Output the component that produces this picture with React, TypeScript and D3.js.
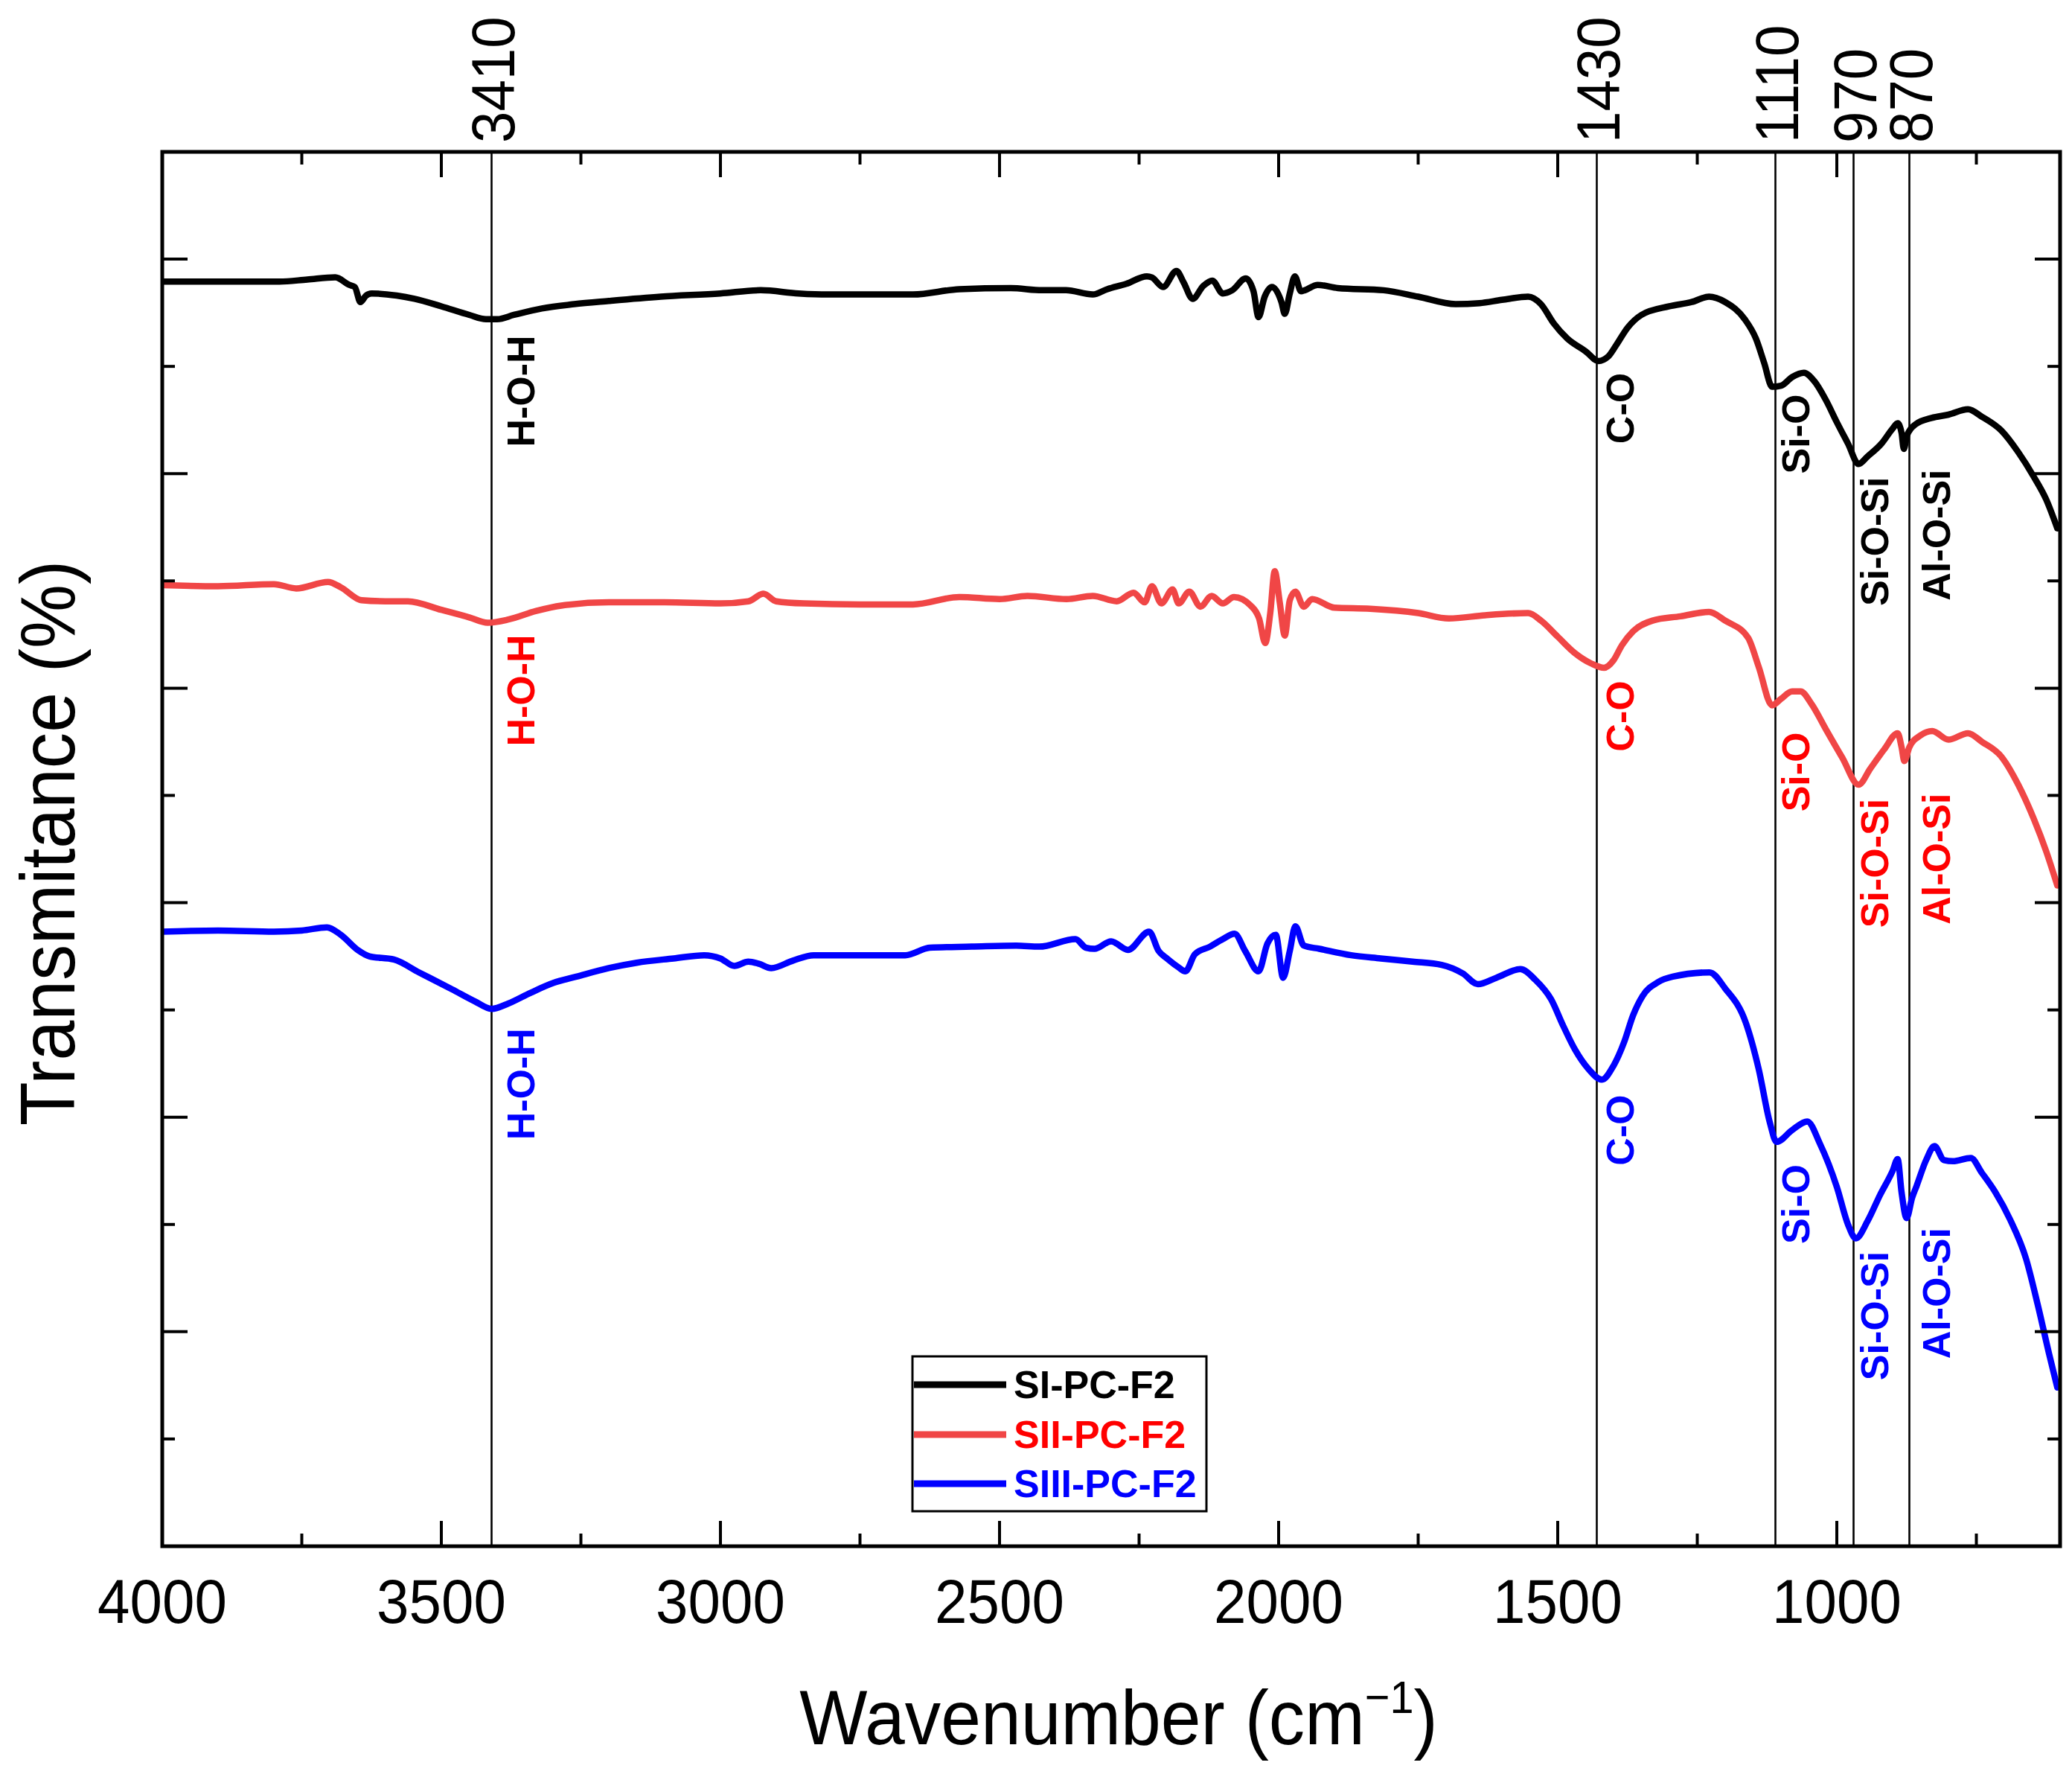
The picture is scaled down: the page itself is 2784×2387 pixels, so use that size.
/**
 * FTIR transmittance spectra of SI/SII/SIII-PC-F2, with band assignments.
 * X: wavenumber (reversed, 4000 -> 600). Y: transmittance, no tick labels.
 */

import * as d3 from "d3";

// ---------------------------------------------------------------------------
// Data (wavenumber cm-1, transmittance a.u.)
// ---------------------------------------------------------------------------

const SI_PC_F2: [number, number][] = [
  [4000, 117.9], [3850, 117.9], [3790, 117.9], [3740, 118.1], [3690, 118.3],
  [3665, 117.6], [3655, 117.4], [3645, 116.0], [3635, 116.6], [3625, 116.8],
  [3580, 116.6], [3548, 116.3], [3500, 115.6], [3450, 114.8], [3420, 114.4],
  [3400, 114.4], [3370, 114.8], [3320, 115.4], [3262, 115.8], [3200, 116.1],
  [3107, 116.5], [3000, 116.8], [2928, 117.1], [2860, 116.8], [2809, 116.7],
  [2700, 116.7], [2655, 116.7], [2572, 117.2], [2480, 117.3], [2424, 117.1],
  [2381, 117.1], [2333, 116.7], [2307, 117.2], [2273, 117.7], [2236, 118.4],
  [2227, 118.3], [2207, 117.4], [2183, 118.9], [2170, 117.8], [2154, 116.3],
  [2135, 117.5], [2119, 118.0], [2100, 116.8], [2083, 117.1], [2059, 118.2],
  [2045, 117.0], [2036, 114.6], [2025, 116.5], [2012, 117.4], [1995, 116.0],
  [1989, 114.9], [1980, 116.8], [1971, 118.4], [1960, 117.0], [1953, 117.1],
  [1930, 117.6], [1894, 117.3], [1812, 117.1], [1750, 116.5], [1683, 115.8],
  [1640, 115.9], [1600, 116.2], [1553, 116.5], [1530, 115.8], [1507, 114.0],
  [1483, 112.6], [1450, 111.4], [1427, 110.5], [1410, 110.9], [1395, 112.0],
  [1375, 113.6], [1350, 114.8], [1300, 115.6], [1260, 116.0], [1229, 116.5],
  [1200, 116.0], [1165, 114.4], [1145, 112.6], [1130, 110.3], [1116, 108.1],
  [1100, 108.2], [1080, 109.0], [1059, 109.4], [1040, 108.6], [1020, 106.9],
  [1000, 104.8], [980, 102.8], [961, 100.9], [945, 101.6], [920, 102.8],
  [900, 104.2], [891, 104.7], [884, 103.8], [880, 102.3], [874, 103.6],
  [859, 104.6], [830, 105.2], [800, 105.5], [765, 106.0], [740, 105.3],
  [705, 104.0], [675, 102.0], [647, 99.7], [625, 97.6], [605, 94.9],
];

const SII_PC_F2: [number, number][] = [
  [4000, 89.6], [3900, 89.5], [3800, 89.7], [3760, 89.3], [3703, 89.9],
  [3680, 89.4], [3643, 88.2], [3600, 88.1], [3560, 88.1], [3500, 87.3],
  [3450, 86.6], [3417, 86.1], [3380, 86.4], [3330, 87.2], [3285, 87.7],
  [3200, 88.0], [3100, 88.0], [3000, 87.9], [2950, 88.1], [2923, 88.8],
  [2900, 88.1], [2850, 87.9], [2750, 87.8], [2655, 87.8], [2572, 88.5],
  [2500, 88.3], [2450, 88.6], [2380, 88.3], [2333, 88.6], [2290, 88.1],
  [2260, 88.9], [2240, 88.0], [2227, 89.5], [2210, 87.9], [2190, 89.2],
  [2179, 87.9], [2160, 89.0], [2140, 87.6], [2120, 88.6], [2100, 87.9],
  [2080, 88.5], [2050, 87.7], [2035, 86.5], [2024, 84.2], [2015, 87.0],
  [2007, 90.9], [1998, 88.0], [1989, 84.9], [1980, 88.2], [1970, 89.0],
  [1955, 87.6], [1940, 88.3], [1900, 87.5], [1836, 87.4], [1750, 87.0],
  [1695, 86.5], [1630, 86.8], [1553, 87.0], [1530, 86.3], [1500, 84.8],
  [1470, 83.3], [1440, 82.3], [1417, 81.9], [1400, 82.6], [1385, 84.0],
  [1365, 85.3], [1330, 86.3], [1280, 86.7], [1229, 87.1], [1200, 86.3],
  [1159, 84.7], [1140, 82.0], [1116, 78.4], [1100, 79.0], [1080, 79.7],
  [1065, 79.7], [1045, 78.5], [1020, 76.2], [990, 73.5], [961, 71.0],
  [940, 72.5], [915, 74.3], [891, 75.8], [884, 74.5], [879, 73.2],
  [870, 74.5], [850, 75.6], [829, 76.0], [800, 75.2], [765, 75.8],
  [740, 75.0], [705, 73.6], [675, 71.0], [647, 67.8], [625, 64.8],
  [605, 61.6],
];

const SIII_PC_F2: [number, number][] = [
  [4000, 57.3], [3900, 57.4], [3800, 57.3], [3750, 57.4], [3705, 57.7],
  [3680, 57.0], [3650, 55.6], [3629, 55.0], [3585, 54.7], [3540, 53.5],
  [3480, 51.9], [3440, 50.8], [3410, 50.1], [3380, 50.6], [3340, 51.6],
  [3300, 52.5], [3258, 53.1], [3200, 53.9], [3150, 54.4], [3084, 54.8],
  [3029, 55.1], [3000, 54.8], [2975, 54.1], [2950, 54.5], [2931, 54.3],
  [2909, 53.9], [2870, 54.6], [2833, 55.1], [2750, 55.1], [2669, 55.1],
  [2625, 55.8], [2550, 55.9], [2470, 56.0], [2429, 55.9], [2364, 56.6],
  [2345, 55.8], [2330, 55.7], [2300, 56.4], [2270, 55.6], [2232, 57.3],
  [2215, 55.5], [2200, 54.8], [2180, 54.0], [2167, 53.6], [2150, 55.2],
  [2123, 55.9], [2100, 56.6], [2079, 57.1], [2060, 55.5], [2036, 53.6],
  [2020, 56.2], [2005, 57.0], [1992, 53.0], [1980, 55.5], [1970, 57.8],
  [1955, 56.0], [1927, 55.7], [1870, 55.1], [1817, 54.8], [1760, 54.5],
  [1708, 54.2], [1670, 53.4], [1643, 52.4], [1610, 53.0], [1567, 53.8],
  [1540, 52.8], [1512, 51.0], [1490, 48.5], [1469, 46.3], [1445, 44.5],
  [1421, 43.5], [1400, 44.8], [1381, 47.0], [1365, 49.5], [1348, 51.3],
  [1320, 52.6], [1294, 53.1], [1228, 53.5], [1200, 52.0], [1163, 48.8],
  [1140, 44.5], [1120, 39.5], [1108, 37.7], [1080, 38.8], [1053, 39.6],
  [1030, 37.5], [1000, 33.5], [980, 30.0], [966, 28.7], [945, 30.3],
  [923, 32.7], [900, 35.0], [891, 36.1], [884, 33.0], [875, 30.6],
  [865, 32.5], [857, 33.6], [840, 36.0], [825, 37.3], [808, 36.0],
  [792, 35.9], [760, 36.2], [740, 34.8], [716, 33.0], [690, 30.5],
  [661, 26.8], [640, 22.5], [620, 18.0], [605, 14.8],
];

const SERIES_NAMES = ["SI-PC-F2", "SII-PC-F2", "SIII-PC-F2"];

// band positions + assignments
const PEAK_WAVENUMBERS = [3410, 1430, 1110, 970, 870];
const PEAK_GROUPS = ["H-O-H", "C-O", "Si-O", "Si-O-Si", "Al-O-Si"];

// where each rotated assignment label starts (top end), in transmittance units
const LABEL_TOP_SI = [112.9, 109.4, 107.4, 99.7, 100.4];
const LABEL_TOP_SII = [85.0, 80.7, 75.9, 69.7, 70.2];
const LABEL_TOP_SIII = [48.3, 42.1, 35.6, 27.5, 29.7];

const X_MAJOR = [4000, 3500, 3000, 2500, 2000, 1500, 1000];
const X_MINOR = [3750, 3250, 2750, 2250, 1750, 1250, 750];
const Y_MAJOR = [20, 40, 60, 80, 100, 120];
const Y_MINOR = [10, 30, 50, 70, 90, 110];

// ---------------------------------------------------------------------------
// Style / layout
// ---------------------------------------------------------------------------

const WIDTH = 2784;
const HEIGHT = 2387;
const L = 218;
const R = 2768;
const T = 204;
const B = 2077;

const FONT = "Arial, 'Liberation Sans', Helvetica, sans-serif";
const LINE_COLORS = ["#000000", "#f04646", "#0000ff"];
const TEXT_COLORS = ["#000000", "#ff0000", "#0000ff"];
const LINE_W = 8.5;
const MAJOR_LEN = 34;
const MINOR_LEN = 17;
const LABEL_GAP = [20, 12, 8, 9, 17];
const LABEL_SIZE = 52;
const COND = 0.93; // the original text is slightly condensed

export default function App() {
  const x = d3.scaleLinear().domain([4000, 600]).range([L, R]);
  const y = d3.scaleLinear().domain([0, 130]).range([B, T]);

  const line = d3
    .line<[number, number]>()
    .x((d) => x(d[0]))
    .y((d) => y(d[1]))
    .curve(d3.curveMonotoneX);

  const series = [SI_PC_F2, SII_PC_F2, SIII_PC_F2];
  const labelTops = [LABEL_TOP_SI, LABEL_TOP_SII, LABEL_TOP_SIII];

  // legend box
  const lg = { x: 1226, y: 1822, w: 395, h: 208 };
  const lgRows = [1860, 1927, 1993];

  return (
    <div style={{ position: "absolute", left: 0, top: 0, background: "#fff" }}>
      <svg width={WIDTH} height={HEIGHT} style={{ display: "block" }} fontFamily={FONT}>
        <rect x={0} y={0} width={WIDTH} height={HEIGHT} fill="#fff" />

        <defs>
          <clipPath id="plot-clip">
            <rect x={L} y={T} width={R - L} height={B - T} />
          </clipPath>
        </defs>

        {/* band marker lines */}
        {PEAK_WAVENUMBERS.map((p) => (
          <line key={`pl${p}`} x1={x(p)} x2={x(p)} y1={T} y2={B} stroke="#000" strokeWidth={2.6} />
        ))}

        {/* band wavenumbers above the frame */}
        {PEAK_WAVENUMBERS.map((p) => (
          <text
            key={`pt${p}`}
            transform={`translate(${x(p) + 30},${T - 12}) rotate(-90) scale(${COND},1)`}
            fontSize={82}
            fill="#000"
          >
            {p}
          </text>
        ))}

        {/* spectra */}
        <g clipPath="url(#plot-clip)">
          {series.map((s, i) => (
            <path
              key={SERIES_NAMES[i]}
              d={line(s) ?? ""}
              fill="none"
              stroke={LINE_COLORS[i]}
              strokeWidth={LINE_W}
              strokeLinejoin="round"
              strokeLinecap="round"
            />
          ))}
        </g>

        {/* band assignment labels */}
        {labelTops.map((tops, si) =>
          PEAK_WAVENUMBERS.map((p, pi) => (
            <text
              key={`lab${si}-${p}`}
              transform={`translate(${x(p) + LABEL_GAP[pi] + LABEL_SIZE * 0.72},${y(tops[pi])}) rotate(-90)`}
              textAnchor="end"
              fontSize={LABEL_SIZE}
              fontWeight="bold"
              fill={TEXT_COLORS[si]}
            >
              {PEAK_GROUPS[pi]}
            </text>
          )),
        )}

        {/* x ticks: bottom + top, inward */}
        {X_MAJOR.map((t) => (
          <g key={`xM${t}`}>
            <line x1={x(t)} x2={x(t)} y1={B} y2={B - MAJOR_LEN} stroke="#000" strokeWidth={4} />
            <line x1={x(t)} x2={x(t)} y1={T} y2={T + MAJOR_LEN} stroke="#000" strokeWidth={4} />
            <text
              transform={`translate(${x(t)},2180) scale(${COND},1)`}
              textAnchor="middle"
              fontSize={84}
              fill="#000"
            >
              {t}
            </text>
          </g>
        ))}
        {X_MINOR.map((t) => (
          <g key={`xm${t}`}>
            <line x1={x(t)} x2={x(t)} y1={B} y2={B - MINOR_LEN} stroke="#000" strokeWidth={4} />
            <line x1={x(t)} x2={x(t)} y1={T} y2={T + MINOR_LEN} stroke="#000" strokeWidth={4} />
          </g>
        ))}

        {/* y ticks: left + right, inward, no labels */}
        {Y_MAJOR.map((t) => (
          <g key={`yM${t}`}>
            <line x1={L} x2={L + MAJOR_LEN} y1={y(t)} y2={y(t)} stroke="#000" strokeWidth={4} />
            <line x1={R} x2={R - MAJOR_LEN} y1={y(t)} y2={y(t)} stroke="#000" strokeWidth={4} />
          </g>
        ))}
        {Y_MINOR.map((t) => (
          <g key={`ym${t}`}>
            <line x1={L} x2={L + MINOR_LEN} y1={y(t)} y2={y(t)} stroke="#000" strokeWidth={4} />
            <line x1={R} x2={R - MINOR_LEN} y1={y(t)} y2={y(t)} stroke="#000" strokeWidth={4} />
          </g>
        ))}

        {/* frame */}
        <rect x={L} y={T} width={R - L} height={B - T} fill="none" stroke="#000" strokeWidth={5} />

        {/* legend */}
        <rect x={lg.x} y={lg.y} width={lg.w} height={lg.h} fill="#fff" stroke="#000" strokeWidth={3} />
        {SERIES_NAMES.map((n, i) => (
          <g key={`lg${n}`}>
            <line
              x1={lg.x + 2}
              x2={lg.x + 126}
              y1={lgRows[i]}
              y2={lgRows[i]}
              stroke={LINE_COLORS[i]}
              strokeWidth={9}
            />
            <text x={lg.x + 136} y={lgRows[i] + 18} fontSize={52} fontWeight="bold" fill={TEXT_COLORS[i]}>
              {n}
            </text>
          </g>
        ))}

        {/* axis titles */}
        <text
          transform={`translate(${(L + R) / 2 + 10},2343) scale(${COND},1)`}
          textAnchor="middle"
          fontSize={104}
          fill="#000"
        >
          Wavenumber (cm
          <tspan fontSize={62} dy={-42}>
            −1
          </tspan>
          <tspan dy={42}>)</tspan>
        </text>
        <text
          transform={`translate(100,${(T + B) / 2 - 8}) rotate(-90) scale(${COND},1)`}
          textAnchor="middle"
          fontSize={104}
          fill="#000"
        >
          Transmitance (%)
        </text>
      </svg>
    </div>
  );
}
